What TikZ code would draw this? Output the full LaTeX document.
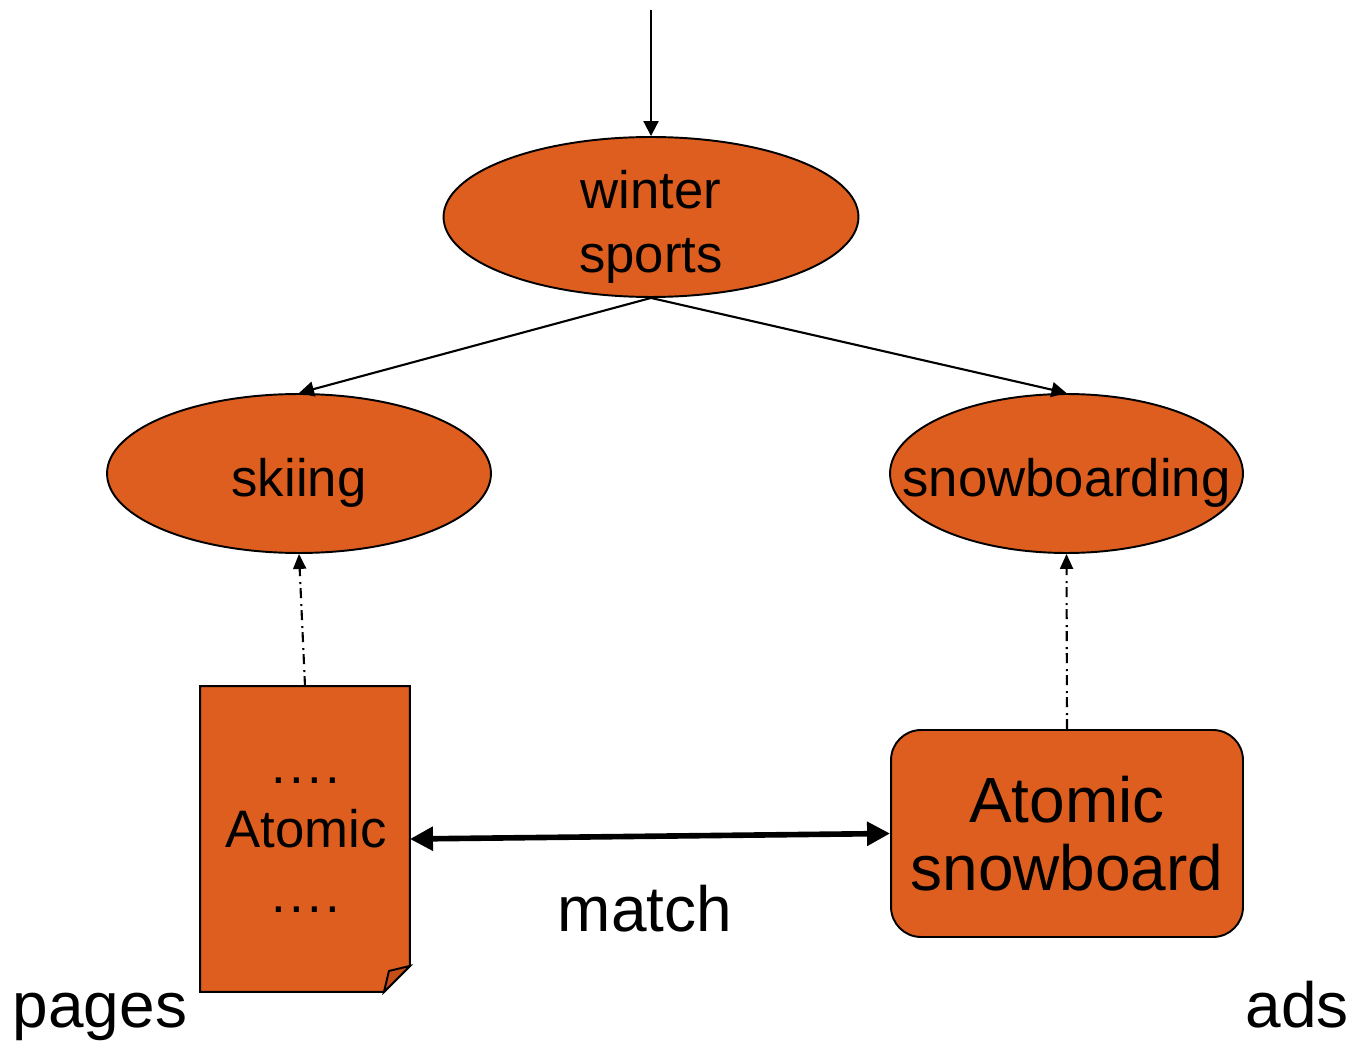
\documentclass[tikz,border=0pt]{standalone}
\usepackage{fontspec}
\setmainfont{Liberation Sans}
\usetikzlibrary{arrows.meta, shapes.geometric, positioning}
\definecolor{topicfill}{RGB}{221,94,30}
\definecolor{foldfill}{RGB}{196,78,22}
\newcommand\pagedots{.\kern2pt.\kern2pt.\kern2pt.}

\begin{document}
\begin{tikzpicture}[x=0.02cm, y=-0.02cm, line width=1.1pt,
  small/.style={font=\fontsize{30}{36.6}\selectfont, align=center, inner sep=0pt},
  big/.style={font=\fontsize{36.4}{38.6}\selectfont, align=center, inner sep=0pt},
  topic/.style={ellipse, draw, fill=topicfill, inner sep=0pt},
  link/.style={line width=1.2pt, -{Triangle[length=0.3cm, width=0.3cm]}},
  mapsto/.style={line width=1.2pt, -{Triangle[length=0.3cm, width=0.26cm]},
    dash pattern=on 0.2cm off 0.08cm on 0.04cm off 0.12cm},
  matcharrow/.style={line width=3.2pt,
    {Triangle[length=0.46cm, width=0.46cm]}-{Triangle[length=0.46cm, width=0.46cm]}}]
\useasboundingbox (0,0) rectangle (1355,1043);

% taxonomy
\node[topic, minimum width=8.3cm, minimum height=3.2cm] (winter) at (651,217) {};
\node[small] (wintertext) at (651,227) {winter\\sports};
\node[topic, minimum width=7.68cm, minimum height=3.18cm] (skiing) at (299,473.5) {};
\node[small, anchor=base] (skiingtext) at (299,497) {skiing};
\node[topic, minimum width=7.06cm, minimum height=3.18cm] (snow) at (1066.5,473.5) {};
\node[small, anchor=base] (snowtext) at (1066.5,497) {snowboarding};

% page
\node[minimum width=4.16cm, minimum height=6.08cm, inner sep=0pt] (page) at (305,839) {};
\draw[fill=topicfill] (page.north west) -- (page.north east) -- ([yshift=0.52cm]page.south east)
  -- ([xshift=-0.52cm]page.south east) -- (page.south west) -- cycle;
\draw[fill=foldfill] ([xshift=-0.52cm]page.south east) -- ([yshift=0.52cm]page.south east)
  -- ([xshift=-0.42cm, yshift=0.42cm]page.south east) -- cycle;
\node[small] (pagetext) at (306,845) {\pagedots\\Atomic\\\pagedots};

% ad
\node[big, draw, fill=topicfill, rounded corners=0.6cm, minimum width=7.04cm,
  minimum height=4.14cm] (ad) at (1067,833.5) {Atomic\\snowboard};

\coordinate (query) at (651,10);
\draw[link] (query) -- (winter.north);
\draw[link] (winter.south) -- (skiing.north);
\draw[link] (winter.south) -- (snow.north);
\draw[mapsto] (page.north) -- (skiing.south);
\draw[mapsto] (ad.north) -- (snow.south);
\draw[matcharrow] (page.east) -- (ad.west);

\node[big, anchor=base] (matchlabel) at (645,931) {match};
\node[big, anchor=base] (pageslabel) at (100,1027) {pages};
\node[big, anchor=base] (adslabel) at (1297,1027) {ads};
\end{tikzpicture}
\end{document}
